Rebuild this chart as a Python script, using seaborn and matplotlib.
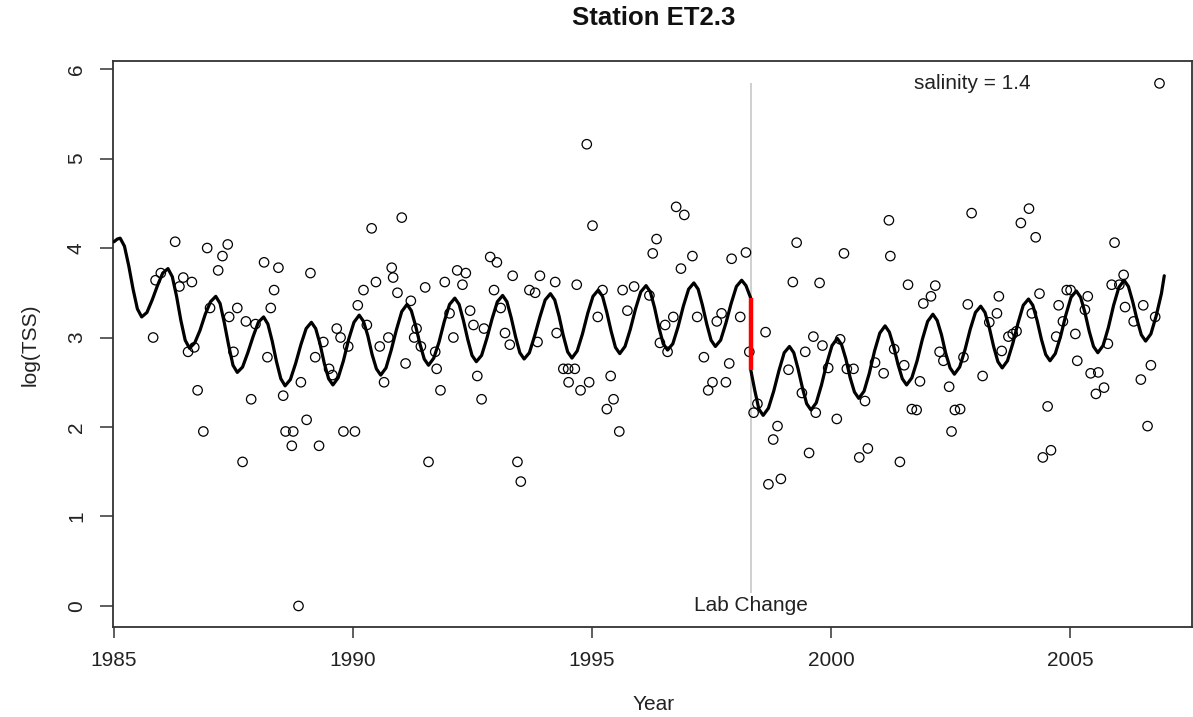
import matplotlib
matplotlib.use("Agg")
import matplotlib.pyplot as plt
import seaborn as sns
import pandas as pd

# ---------------- data ----------------
title = "Station ET2.3"
x_label = "Year"
y_label = "log(TSS)"
x_ticks = [1985, 1990, 1995, 2000, 2005]
y_ticks = [0, 1, 2, 3, 4, 5, 6]

lab_change_year = 1998.32
step_low = 2.64
step_high = 3.44
line_top = 5.84
line_bottom = 0.15
salinity_label = "salinity = 1.4"
salinity_pos = (2002.96, 5.84)

obs_year = [
    1985.82, 1985.87, 1985.98, 1986.28, 1986.37, 1986.45, 1986.55, 1986.63, 1986.68, 1986.75,
    1986.87, 1986.95, 1987.01, 1987.18, 1987.27, 1987.38, 1987.41, 1987.50, 1987.58, 1987.69,
    1987.76, 1987.87, 1987.96, 1988.14, 1988.21, 1988.28, 1988.35, 1988.44, 1988.54, 1988.59,
    1988.72, 1988.75, 1988.86, 1988.91, 1989.03, 1989.11, 1989.21, 1989.29, 1989.38, 1989.50,
    1989.57, 1989.66, 1989.74, 1989.80, 1989.90, 1990.04, 1990.10,
    1990.22, 1990.29, 1990.39, 1990.48, 1990.56, 1990.65, 1990.74, 1990.81, 1990.84, 1990.93,
    1991.02, 1991.10, 1991.21, 1991.28, 1991.33, 1991.42, 1991.51, 1991.58, 1991.72, 1991.75,
    1991.83, 1991.92, 1992.02, 1992.10, 1992.18, 1992.29, 1992.36, 1992.45, 1992.52, 1992.60,
    1992.69, 1992.74, 1992.87, 1992.95, 1993.01, 1993.09, 1993.18, 1993.28, 1993.34, 1993.44,
    1993.51, 1993.69, 1993.81, 1993.86, 1993.91, 1994.23, 1994.26, 1994.40, 1994.50, 1994.51,
    1994.64, 1994.68, 1994.76, 1994.89, 1994.94, 1995.01, 1995.12,
    1995.22, 1995.31, 1995.39, 1995.45, 1995.57, 1995.64, 1995.74, 1995.88, 1996.20, 1996.27,
    1996.35, 1996.42, 1996.53, 1996.58, 1996.70, 1996.76, 1996.86, 1996.93, 1997.10, 1997.20,
    1997.34, 1997.43, 1997.52, 1997.61, 1997.71, 1997.80, 1997.87, 1997.92, 1998.10, 1998.22,
    1998.29, 1998.38, 1998.46, 1998.63, 1998.69, 1998.79, 1998.88, 1998.95, 1999.11, 1999.20,
    1999.28, 1999.39, 1999.46, 1999.54, 1999.63, 1999.68, 1999.76, 1999.82, 1999.94, 2000.12,
    2000.19, 2000.27, 2000.33, 2000.47, 2000.59, 2000.71, 2000.77, 2000.92, 2001.10, 2001.21,
    2001.24, 2001.32, 2001.44, 2001.53, 2001.61, 2001.69, 2001.79, 2001.86, 2001.93, 2002.09,
    2002.18, 2002.27, 2002.35, 2002.47, 2002.52, 2002.59, 2002.70, 2002.77, 2002.86, 2002.94,
    2003.17, 2003.31, 2003.47, 2003.51, 2003.57, 2003.71, 2003.80, 2003.88, 2003.97, 2004.14,
    2004.20, 2004.28, 2004.36, 2004.43, 2004.53, 2004.60, 2004.71, 2004.76, 2004.85, 2004.93,
    2005.01, 2005.11, 2005.15, 2005.31, 2005.37, 2005.43, 2005.54, 2005.59, 2005.71, 2005.79,
    2005.87, 2005.93, 2006.03, 2006.12, 2006.15, 2006.33, 2006.48, 2006.53, 2006.62, 2006.69,
    2006.78, 2006.87,
]
obs_logtss = [
    3.00, 3.64, 3.72, 4.07, 3.57, 3.67, 2.84, 3.62, 2.89, 2.41,
    1.95, 4.00, 3.33, 3.75, 3.91, 4.04, 3.23, 2.84, 3.33, 1.61,
    3.18, 2.31, 3.15, 3.84, 2.78, 3.33, 3.53, 3.78, 2.35, 1.95,
    1.79, 1.95, 0.00, 2.50, 2.08, 3.72, 2.78, 1.79, 2.95, 2.65,
    2.58, 3.10, 3.00, 1.95, 2.90, 1.95, 3.36,
    3.53, 3.14, 4.22, 3.62, 2.90, 2.50, 3.00, 3.78, 3.67, 3.50,
    4.34, 2.71, 3.41, 3.00, 3.10, 2.90, 3.56, 1.61, 2.84, 2.65,
    2.41, 3.62, 3.27, 3.00, 3.75, 3.59, 3.72, 3.30, 3.14, 2.57,
    2.31, 3.10, 3.90, 3.53, 3.84, 3.33, 3.05, 2.92, 3.69, 1.61,
    1.39, 3.53, 3.50, 2.95, 3.69, 3.62, 3.05, 2.65, 2.65, 2.50,
    2.65, 3.59, 2.41, 5.16, 2.50, 4.25, 3.23,
    3.53, 2.20, 2.57, 2.31, 1.95, 3.53, 3.30, 3.57, 3.47, 3.94,
    4.10, 2.94, 3.14, 2.84, 3.23, 4.46, 3.77, 4.37, 3.91, 3.23,
    2.78, 2.41, 2.50, 3.18, 3.27, 2.50, 2.71, 3.88, 3.23, 3.95,
    2.84, 2.16, 2.26, 3.06, 1.36, 1.86, 2.01, 1.42, 2.64, 3.62,
    4.06, 2.38, 2.84, 1.71, 3.01, 2.16, 3.61, 2.91, 2.66, 2.09,
    2.98, 3.94, 2.65, 2.65, 1.66, 2.29, 1.76, 2.72, 2.60, 4.31,
    3.91, 2.87, 1.61, 2.69, 3.59, 2.20, 2.19, 2.51, 3.38, 3.46,
    3.58, 2.84, 2.74, 2.45, 1.95, 2.19, 2.20, 2.78, 3.37, 4.39,
    2.57, 3.17, 3.27, 3.46, 2.85, 3.01, 3.04, 3.07, 4.28, 4.44,
    3.27, 4.12, 3.49, 1.66, 2.23, 1.74, 3.01, 3.36, 3.18, 3.53,
    3.53, 3.04, 2.74, 3.31, 3.46, 2.60, 2.37, 2.61, 2.44, 2.93,
    3.59, 4.06, 3.59, 3.70, 3.34, 3.18, 2.53, 3.36, 2.01, 2.69,
    3.23, 5.84,
]

fit_year = [
    1985.00, 1985.07, 1985.13, 1985.22, 1985.31, 1985.40, 1985.49, 1985.58, 1985.69, 1985.80, 1985.91,
    1986.02, 1986.13, 1986.22, 1986.31, 1986.40, 1986.49, 1986.58, 1986.69, 1986.80, 1986.91,
    1987.02, 1987.13, 1987.22, 1987.31, 1987.40, 1987.49, 1987.58, 1987.69, 1987.80, 1987.91,
    1988.02, 1988.13, 1988.22, 1988.31, 1988.40, 1988.49, 1988.58, 1988.69, 1988.80, 1988.91,
    1989.02, 1989.13, 1989.22, 1989.31, 1989.40, 1989.49, 1989.58, 1989.69, 1989.80, 1989.91,
    1990.02, 1990.13, 1990.22, 1990.31, 1990.40, 1990.49, 1990.58, 1990.69, 1990.80, 1990.91,
    1991.02, 1991.13, 1991.22, 1991.31, 1991.40, 1991.49, 1991.58, 1991.69, 1991.80, 1991.91,
    1992.02, 1992.13, 1992.22, 1992.31, 1992.40, 1992.49, 1992.58, 1992.69, 1992.80, 1992.91,
    1993.02, 1993.13, 1993.22, 1993.31, 1993.40, 1993.49, 1993.58, 1993.69, 1993.80, 1993.91,
    1994.02, 1994.13, 1994.22, 1994.31, 1994.40, 1994.49, 1994.58, 1994.69, 1994.80, 1994.91,
    1995.02, 1995.13, 1995.22, 1995.31, 1995.40, 1995.49, 1995.58, 1995.69, 1995.80, 1995.91,
    1996.02, 1996.13, 1996.22, 1996.31, 1996.40, 1996.49, 1996.58, 1996.69, 1996.80, 1996.91,
    1997.02, 1997.13, 1997.22, 1997.31, 1997.40, 1997.49, 1997.58, 1997.69, 1997.80, 1997.91,
    1998.02, 1998.13, 1998.22, 1998.32, 1998.32, 1998.40, 1998.49, 1998.58, 1998.69, 1998.80, 1998.91,
    1999.02, 1999.13, 1999.22, 1999.31, 1999.40, 1999.49, 1999.58, 1999.69, 1999.80, 1999.91,
    2000.02, 2000.13, 2000.22, 2000.31, 2000.40, 2000.49, 2000.58, 2000.69, 2000.80, 2000.91,
    2001.02, 2001.13, 2001.22, 2001.31, 2001.40, 2001.49, 2001.58, 2001.69, 2001.80, 2001.91,
    2002.02, 2002.13, 2002.22, 2002.31, 2002.40, 2002.49, 2002.58, 2002.69, 2002.80, 2002.91,
    2003.02, 2003.13, 2003.22, 2003.31, 2003.40, 2003.49, 2003.58, 2003.69, 2003.80, 2003.91,
    2004.02, 2004.13, 2004.22, 2004.31, 2004.40, 2004.49, 2004.58, 2004.69, 2004.80, 2004.91,
    2005.02, 2005.13, 2005.22, 2005.31, 2005.40, 2005.49, 2005.58, 2005.69, 2005.80, 2005.91,
    2006.02, 2006.13, 2006.22, 2006.31, 2006.40, 2006.49, 2006.58, 2006.69, 2006.80, 2006.91,
    2006.97,
]
fit_logtss = [
    4.07, 4.10, 4.11, 4.02, 3.80, 3.54, 3.32, 3.23, 3.28, 3.42, 3.58,
    3.72, 3.77, 3.68, 3.46, 3.19, 2.97, 2.88, 2.94, 3.08, 3.26,
    3.40, 3.46, 3.38, 3.16, 2.91, 2.69, 2.61, 2.67, 2.83, 3.01,
    3.17, 3.23, 3.15, 2.96, 2.73, 2.54, 2.46, 2.53, 2.71, 2.92,
    3.10, 3.17, 3.10, 2.93, 2.71, 2.54, 2.47, 2.55, 2.74, 2.98,
    3.17, 3.25, 3.18, 3.02, 2.81, 2.65, 2.58, 2.66, 2.86, 3.09,
    3.29, 3.37, 3.30, 3.13, 2.93, 2.76, 2.69, 2.77, 2.95, 3.18,
    3.37, 3.44, 3.37, 3.19, 2.98, 2.80, 2.73, 2.80, 2.99, 3.21,
    3.40, 3.47, 3.40, 3.22, 3.01, 2.83, 2.76, 2.83, 3.02, 3.23,
    3.42, 3.49, 3.42, 3.24, 3.02, 2.84, 2.77, 2.85, 3.04, 3.27,
    3.46, 3.53, 3.46, 3.28, 3.07, 2.89, 2.82, 2.90, 3.09, 3.32,
    3.51, 3.58, 3.51, 3.33, 3.11, 2.93, 2.86, 2.93, 3.12, 3.35,
    3.54, 3.61, 3.54, 3.36, 3.15, 2.97, 2.90, 2.97, 3.16, 3.38,
    3.57, 3.64, 3.58, 3.44, 2.64, 2.42, 2.20, 2.13, 2.21, 2.40, 2.63,
    2.83, 2.90, 2.83, 2.65, 2.44, 2.26, 2.19, 2.27, 2.47, 2.71,
    2.91, 2.99, 2.92, 2.76, 2.55, 2.39, 2.32, 2.40, 2.60, 2.85,
    3.05, 3.13, 3.06, 2.90, 2.70, 2.54, 2.47, 2.55, 2.74, 2.98,
    3.18, 3.26, 3.19, 3.03, 2.82, 2.66, 2.59, 2.67, 2.86, 3.09,
    3.28, 3.35, 3.28, 3.11, 2.90, 2.73, 2.66, 2.74, 2.93, 3.16,
    3.36, 3.43, 3.36, 3.19, 2.98, 2.81, 2.74, 2.82, 3.01, 3.25,
    3.45, 3.52, 3.45, 3.28, 3.07, 2.90, 2.83, 2.91, 3.11, 3.36,
    3.56, 3.64, 3.57, 3.40, 3.20, 3.03, 2.96, 3.04, 3.24, 3.49,
    3.69,
]

# ---------------- plot ----------------
sns.set_style("ticks")
plt.rcParams["font.family"] = ["Liberation Sans", "DejaVu Sans"]

W, H = 1193, 717
fig = plt.figure(figsize=(W / 100, H / 100), dpi=100)
ax = fig.add_axes([113 / W, 90 / H, 1079 / W, 566 / H])

obs = pd.DataFrame({"year": obs_year, "logtss": obs_logtss})
fit = pd.DataFrame({"year": fit_year, "logtss": fit_logtss})

ax.vlines(lab_change_year, line_bottom, line_top, color="#cfcfcf", lw=1.4, zorder=1)

sns.scatterplot(data=obs, x="year", y="logtss", ax=ax, marker="o", s=46,
                facecolors="none", edgecolors="black", linewidths=0.9, zorder=3)

sns.lineplot(data=fit, x="year", y="logtss", ax=ax, sort=False, estimator=None,
             color="black", lw=2.3, zorder=4,
             solid_joinstyle="round", solid_capstyle="round")

ax.vlines(lab_change_year, step_low, step_high, color="#ff0000", lw=3.2, zorder=5)

ax.text(lab_change_year, 0, "Lab Change", ha="center", va="center", fontsize=15,
        color="#222222", zorder=6)
ax.text(salinity_pos[0], salinity_pos[1], salinity_label, ha="center", va="center",
        fontsize=15, color="#222222")

ax.set_xlim(1984.98, 2007.55)
ax.set_ylim(-0.235, 6.09)
ax.set_xticks(x_ticks)
ax.set_xticklabels([str(v) for v in x_ticks], fontsize=15, color="#222222")
ax.set_yticks(y_ticks)
ax.set_yticklabels([str(v) for v in y_ticks], fontsize=15, rotation=90, va="center",
                   color="#222222")
ax.tick_params(axis="x", direction="out", length=7.6, width=1.1, pad=10, colors="#333333",
               labelcolor="#222222")
ax.tick_params(axis="y", direction="out", length=9.5, width=1.1, pad=10, colors="#333333",
               labelcolor="#222222")
ax.set_xlabel("")
ax.set_ylabel("")
for sp in ax.spines.values():
    sp.set_visible(True)
    sp.set_color("#333333")
    sp.set_linewidth(1.3)

fig.text(654 / W, 1 - 18 / H, title, ha="center", va="center", fontsize=18.5,
         fontweight="bold", color="#111111")
fig.text(654 / W, 1 - 705 / H, x_label, ha="center", va="center", fontsize=15, color="#222222")
fig.text(30 / W, 1 - 345 / H, y_label, ha="center", va="center", fontsize=15, rotation=90,
         color="#222222")

fig.savefig("out.png", dpi=100)
